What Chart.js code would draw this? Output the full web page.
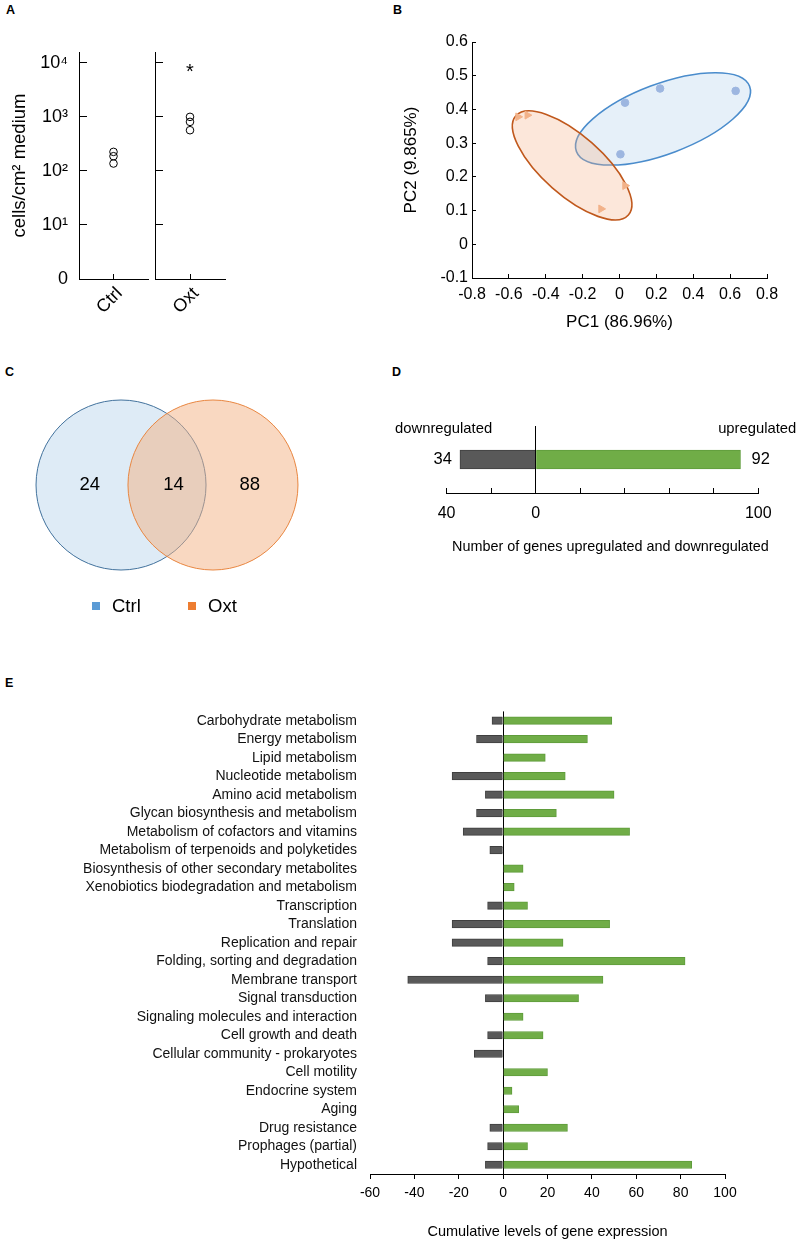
<!DOCTYPE html>
<html>
<head>
<meta charset="utf-8">
<script src="https://cdn.jsdelivr.net/npm/chart.js@4.4.1/dist/chart.umd.min.js"></script>
<style>
  body { margin: 0; background: #fff; }
  #fig { position: relative; width: 800px; height: 1244px; font-family: 'Liberation Sans', Arial, sans-serif; color: #000; }
  .tag { position: absolute; font-weight: bold; font-size: 12.5px; line-height: 12.5px; }
  .lgtxt { position: absolute; font-size: 18.5px; line-height: 20px; }
  .lgbox { position: absolute; width: 8px; height: 8px; }
</style>
</head>
<body>
<div id="fig">
  <div class="tag" style="left:6px;top:4px">A</div>
  <div class="tag" style="left:393px;top:4px">B</div>
  <div class="tag" style="left:5px;top:366px">C</div>
  <div class="tag" style="left:392px;top:366px">D</div>
  <div class="tag" style="left:5px;top:677px">E</div>
</div>
<script>
// A - cell counts (log scale)
const cellGroups = ['Ctrl', 'Oxt'];
const ctrlCells = [225, 187, 137];
const oxtCells = [1000, 808, 566];
const cellTickValues = [1, 10, 100, 1000, 10000];
const cellTickLabels = ['0', '10¹', '10²', '10³', '10⁴'];
const oxtStarLevel = 8300;

// B - PCA scores
const pcaCtrlX = [0.03, 0.22, 0.63, 0.005];
const pcaCtrlY = [0.42, 0.462, 0.455, 0.267];
const pcaOxtX = [-0.55, -0.50, 0.03, -0.10];
const pcaOxtY = [0.378, 0.383, 0.174, 0.105];

// C - Venn counts: Ctrl only, shared, Oxt only
const vennSets = ['Ctrl', 'Oxt'];
const vennCounts = [24, 14, 88];

// D - up/down regulated genes
const regLabels = ['downregulated', 'upregulated'];
const regCounts = [-34, 92];
const regTickValues = [-40, 0, 100];
const regTickText = ['40', '0', '100'];

// E - cumulative expression per KEGG category
const eCategories = [
  'Carbohydrate metabolism', 'Energy metabolism', 'Lipid metabolism', 'Nucleotide metabolism',
  'Amino acid metabolism', 'Glycan biosynthesis and metabolism', 'Metabolism of cofactors and vitamins',
  'Metabolism of terpenoids and polyketides', 'Biosynthesis of other secondary metabolites',
  'Xenobiotics biodegradation and metabolism', 'Transcription', 'Translation', 'Replication and repair',
  'Folding, sorting and degradation', 'Membrane transport', 'Signal transduction',
  'Signaling molecules and interaction', 'Cell growth and death', 'Cellular community - prokaryotes',
  'Cell motility', 'Endocrine system', 'Aging', 'Drug resistance', 'Prophages (partial)', 'Hypothetical'
];
const eDown = [-5, -12, 0, -23, -8, -12, -18, -6, 0, 0, -7, -23, -23, -7, -43, -8, 0, -7, -13, 0, 0, 0, -6, -7, -8];
const eUp = [49, 38, 19, 28, 50, 24, 57, 0, 9, 5, 11, 48, 27, 82, 45, 34, 9, 18, 0, 20, 4, 7, 29, 11, 85];

Chart.defaults.font.family = "'Liberation Sans', Arial, sans-serif";
Chart.defaults.color = '#000';
Chart.defaults.animation = false;
Chart.defaults.responsive = false;
Chart.defaults.devicePixelRatio = 1;
Chart.defaults.events = [];
Chart.defaults.plugins.legend.display = false;
Chart.defaults.plugins.tooltip.enabled = false;

function mk(left, top, w, h) {
  const c = document.createElement('canvas');
  c.width = w; c.height = h;
  c.style.cssText = 'position:absolute;left:' + left + 'px;top:' + top + 'px;width:' + w + 'px;height:' + h + 'px';
  document.getElementById('fig').appendChild(c);
  return c;
}

// ---------- A ----------
function cellPanel(left, w, group, values, first) {
  const starPlugin = {
    id: 'star',
    afterDatasetsDraw(chart) {
      if (first) return;
      const ctx = chart.ctx;
      ctx.save();
      ctx.font = "20px 'Liberation Sans', Arial, sans-serif";
      ctx.fillStyle = '#000';
      ctx.textAlign = 'center';
      ctx.textBaseline = 'alphabetic';
      ctx.fillText('*', chart.scales.x.getPixelForValue(0), chart.scales.y.getPixelForValue(oxtStarLevel) + 11);
      ctx.restore();
    }
  };
  return new Chart(mk(left, 0, w, 330), {
    type: 'line',
    data: {
      labels: [group],
      datasets: [{
        data: values.map(v => ({ x: group, y: v })),
        showLine: false,
        pointRadius: 3.8,
        pointBorderWidth: 1,
        pointBorderColor: '#000',
        pointBackgroundColor: 'rgba(0,0,0,0)'
      }]
    },
    options: {
      layout: { padding: { top: 52, right: first ? 1 : 3, left: 0, bottom: 0 } },
      scales: {
        x: {
          offset: true,
          grid: { offset: false, drawOnChartArea: false, tickLength: -5, color: '#000' },
          border: { color: '#000' },
          ticks: { minRotation: 45, maxRotation: 45, font: { size: 18 }, padding: 9, labelOffset: 6 },
          afterFit: s => { s.height = 51; }
        },
        y: {
          type: 'logarithmic', min: 1, max: 15850,
          grid: { drawOnChartArea: false, tickLength: -8, color: '#000' },
          border: { color: '#000' },
          afterBuildTicks: s => { s.ticks = cellTickValues.map(v => ({ value: v })); },
          ticks: { font: { size: 18 }, padding: 19, callback: (v, i) => first ? cellTickLabels[i] : '' },
          title: { display: first, text: 'cells/cm² medium', font: { size: 18.5 }, padding: { top: 9, bottom: 0 } },
          afterFit: s => { s.width = first ? 79 : 5; }
        }
      }
    },
    plugins: [starPlugin]
  });
}
cellPanel(0, 153, cellGroups[0], ctrlCells, true);
cellPanel(150, 80, cellGroups[1], oxtCells, false);

// ---------- B ----------
const pcaEllipses = [
  { cx: 0.236, cy: 0.372, rx: 92.5, ry: 35, angle: -20.6, fill: 'rgba(189,215,238,0.38)', stroke: '#4a8ccc' },
  { cx: -0.257, cy: 0.234, rx: 75, ry: 30, angle: 41.4, fill: 'rgba(244,177,131,0.3)', stroke: '#c0581c' }
];
const ellipsePlugin = {
  id: 'ellipses',
  beforeDatasetsDraw(chart) {
    const ctx = chart.ctx, xs = chart.scales.x, ys = chart.scales.y;
    pcaEllipses.forEach(e => {
      ctx.save();
      ctx.beginPath();
      ctx.ellipse(xs.getPixelForValue(e.cx), ys.getPixelForValue(e.cy), e.rx, e.ry, e.angle * Math.PI / 180, 0, Math.PI * 2);
      ctx.fillStyle = e.fill;
      ctx.fill();
      ctx.lineWidth = 1.6;
      ctx.strokeStyle = e.stroke;
      ctx.stroke();
      ctx.restore();
    });
  }
};
const fmt1 = v => { const r = Math.round(v * 10) / 10; return r === 0 ? '0' : String(r); };
new Chart(mk(390, 0, 410, 340), {
  type: 'scatter',
  data: {
    datasets: [
      { label: 'Ctrl', data: pcaCtrlX.map((x, i) => ({ x: x, y: pcaCtrlY[i] })), pointStyle: 'circle', pointRadius: 3.8, backgroundColor: '#9db6e0', borderColor: '#9db6e0' },
      { label: 'Oxt', data: pcaOxtX.map((x, i) => ({ x: x, y: pcaOxtY[i] })), pointStyle: 'triangle', pointRotation: 90, pointRadius: 4.5, backgroundColor: '#f2b289', borderColor: '#f2b289' }
    ]
  },
  options: {
    layout: { padding: { top: 42, right: 33, left: 0, bottom: 0 } },
    scales: {
      x: {
        min: -0.8, max: 0.8,
        ticks: { stepSize: 0.2, font: { size: 16 }, padding: 11, maxRotation: 0, callback: fmt1 },
        grid: { drawOnChartArea: false, tickLength: -4, color: '#000' },
        border: { color: '#000' },
        title: { display: true, text: 'PC1 (86.96%)', font: { size: 17 }, padding: { top: 0, bottom: 7 } },
        afterFit: s => { s.height = 62; }
      },
      y: {
        min: -0.1, max: 0.6,
        ticks: { stepSize: 0.1, font: { size: 16 }, padding: 8, callback: fmt1 },
        grid: { drawOnChartArea: false, tickLength: -4, color: '#000' },
        border: { color: '#000' },
        title: { display: true, text: 'PC2 (9.865%)', font: { size: 17 }, padding: { top: 11, bottom: 0 } },
        afterFit: s => { s.width = 82; }
      }
    }
  },
  plugins: [ellipsePlugin]
});

// ---------- C ----------
// bubble radius counts as layout padding, so the canvas is padded by ~90px on each side
const vennCenterX = [-0.5, 0.5];
const vennCountX = [-0.84, 0.07, 0.9];
const vennLabelPlugin = {
  id: 'vennLabels',
  afterDatasetsDraw(chart) {
    const ctx = chart.ctx;
    ctx.save();
    ctx.font = "18.5px 'Liberation Sans', Arial, sans-serif";
    ctx.fillStyle = '#000';
    ctx.textAlign = 'center';
    ctx.textBaseline = 'middle';
    vennCounts.forEach((n, i) => {
      ctx.fillText(String(n), chart.scales.x.getPixelForValue(vennCountX[i]), chart.scales.y.getPixelForValue(0));
    });
    ctx.restore();
  }
};
new Chart(mk(-3, 300, 340, 370), {
  type: 'bubble',
  data: {
    datasets: [
      { label: vennSets[0], data: [{ x: vennCenterX[0], y: 0, r: 85 }], backgroundColor: 'rgba(189,215,238,0.5)', borderColor: '#41719c', borderWidth: 1, order: 2, clip: false },
      { label: vennSets[1], data: [{ x: vennCenterX[1], y: 0, r: 85 }], backgroundColor: 'rgba(244,177,131,0.5)', borderColor: '#e8853f', borderWidth: 1, order: 1, clip: false }
    ]
  },
  options: {
    layout: { padding: { left: 90, right: 90, top: 100, bottom: 100 } },
    scales: { x: { display: false, min: -0.87, max: 0.87 }, y: { display: false, min: -1, max: 1 } }
  },
  plugins: [vennLabelPlugin]
});
// legend for C
const vennLegendColors = ['#5b9bd5', '#ed7d31'];
const vennLegendX = [92, 188];
vennSets.forEach((name, i) => {
  const box = document.createElement('div');
  box.className = 'lgbox';
  box.style.cssText = 'left:' + vennLegendX[i] + 'px;top:602px;background:' + vennLegendColors[i];
  const t = document.createElement('div');
  t.className = 'lgtxt';
  t.style.cssText = 'left:' + (vennLegendX[i] + 20) + 'px;top:596px';
  t.textContent = name;
  document.getElementById('fig').appendChild(box);
  document.getElementById('fig').appendChild(t);
});

// ---------- D ----------
const regTextPlugin = {
  id: 'regText',
  afterDatasetsDraw(chart) {
    const ctx = chart.ctx, xs = chart.scales.x, ys = chart.scales.y, area = chart.chartArea;
    const yc = ys.getPixelForValue(0);
    ctx.save();
    ctx.fillStyle = '#000';
    ctx.textBaseline = 'middle';
    ctx.font = "14.8px 'Liberation Sans', Arial, sans-serif";
    ctx.textAlign = 'right';
    ctx.fillText(regLabels[0], xs.getPixelForValue(-20) + 1, area.top + 3);
    ctx.fillText(regLabels[1], area.right + 38, area.top + 3);
    ctx.font = "16.5px 'Liberation Sans', Arial, sans-serif";
    ctx.fillText(String(Math.abs(regCounts[0])), xs.getPixelForValue(regCounts[0]) - 8, yc);
    ctx.textAlign = 'left';
    ctx.fillText(String(regCounts[1]), xs.getPixelForValue(regCounts[1]) + 11, yc);
    // axis caption, centred like the original (slightly right of the plot centre)
    ctx.font = "14.4px 'Liberation Sans', Arial, sans-serif";
    ctx.textAlign = 'center';
    ctx.fillText('Number of genes upregulated and downregulated', (area.left + area.right) / 2 + 8, area.bottom + 54);
    ctx.restore();
  }
};
new Chart(mk(380, 400, 420, 165), {
  type: 'bar',
  data: {
    labels: ['genes'],
    datasets: [
      { label: regLabels[0], data: [regCounts[0]], backgroundColor: '#595959', borderColor: '#404040', borderWidth: 1 },
      { label: regLabels[1], data: [regCounts[1]], backgroundColor: '#70ad47', borderColor: '#5f9c3b', borderWidth: 1 }
    ]
  },
  options: {
    indexAxis: 'y',
    layout: { padding: { left: 66.6, right: 41.7, top: 26, bottom: 0 } },
    datasets: { bar: { barThickness: 19 } },
    scales: {
      x: {
        stacked: true, min: -40, max: 100,
        ticks: {
          stepSize: 20, font: { size: 16 }, padding: 16, autoSkip: false, maxRotation: 0,
          callback: v => { const i = regTickValues.indexOf(v); return i < 0 ? '' : regTickText[i]; }
        },
        grid: { color: c => (c.tick && c.tick.value === 0) ? '#000' : 'rgba(0,0,0,0)', tickColor: '#000', tickLength: -5 },
        border: { color: '#000' },
        afterFit: s => { s.height = 72; }
      },
      y: { stacked: true, display: false }
    }
  },
  plugins: [regTextPlugin]
});

// ---------- E ----------
new Chart(mk(0, 690, 800, 554), {
  type: 'bar',
  data: {
    labels: eCategories,
    datasets: [
      { label: 'down', data: eDown.map(v => v || null), backgroundColor: '#595959', borderColor: '#3f3f3f', borderWidth: 1 },
      { label: 'up', data: eUp.map(v => v || null), backgroundColor: '#70ad47', borderColor: '#5f9c3b', borderWidth: 1 }
    ]
  },
  options: {
    indexAxis: 'y',
    layout: { padding: { left: 0, right: 75, top: 15.6, bottom: 0 } },
    datasets: { bar: { barThickness: 7.5 } },
    scales: {
      x: {
        stacked: true, min: -60, max: 100,
        ticks: { stepSize: 20, font: { size: 14 }, padding: 6, maxRotation: 0 },
        grid: { color: c => (c.tick && c.tick.value === 0) ? '#000' : 'rgba(0,0,0,0)', tickColor: '#000', tickLength: 5 },
        border: { color: '#000' },
        title: { display: true, text: 'Cumulative levels of gene expression', font: { size: 14.5 }, padding: { top: 0, bottom: 3 } },
        afterFit: s => { s.height = 70; }
      },
      y: {
        stacked: true,
        grid: { display: false, drawTicks: false },
        border: { display: false },
        ticks: { font: { size: 14 }, padding: 13, autoSkip: false, color: '#111' },
        afterFit: s => { s.width = 370; }
      }
    }
  }
});
</script>
</body>
</html>
